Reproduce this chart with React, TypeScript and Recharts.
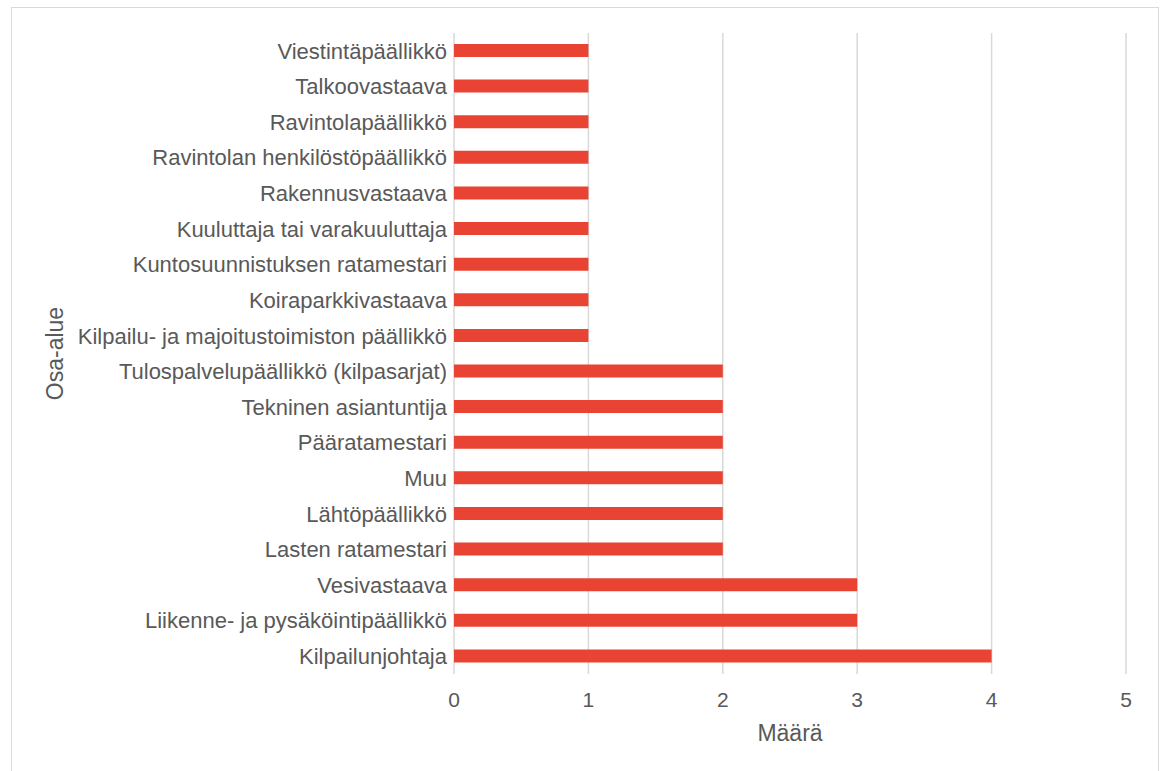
import React from "react";
import {
  BarChart,
  Bar,
  XAxis,
  YAxis,
  CartesianGrid,
  Label,
} from "recharts";

// top-to-bottom order as shown in the chart
const categories = [
  "Viestintäpäällikkö",
  "Talkoovastaava",
  "Ravintolapäällikkö",
  "Ravintolan henkilöstöpäällikkö",
  "Rakennusvastaava",
  "Kuuluttaja tai varakuuluttaja",
  "Kuntosuunnistuksen ratamestari",
  "Koiraparkkivastaava",
  "Kilpailu- ja majoitustoimiston päällikkö",
  "Tulospalvelupäällikkö (kilpasarjat)",
  "Tekninen asiantuntija",
  "Pääratamestari",
  "Muu",
  "Lähtöpäällikkö",
  "Lasten ratamestari",
  "Vesivastaava",
  "Liikenne- ja pysäköintipäällikkö",
  "Kilpailunjohtaja",
];

const counts = [1, 1, 1, 1, 1, 1, 1, 1, 1, 2, 2, 2, 2, 2, 2, 3, 3, 4];

const xTicks = [0, 1, 2, 3, 4, 5];

const FONT = "'Liberation Sans', Arial, sans-serif";
const TEXT = "#595959";

export default function App() {
  const data = categories.map((name, i) => ({ name, value: counts[i] }));

  return (
    <div style={{ position: "absolute", left: 0, top: 0, width: 1162, height: 771, overflow: "hidden", background: "#fff" }}>
      <div
        style={{
          position: "absolute",
          left: 11,
          top: 7,
          width: 1148,
          height: 800,
          border: "1px solid #d9d9d9",
          boxSizing: "border-box",
        }}
      />
      <div style={{ position: "absolute", left: 0, top: 0 }}>
        <BarChart
          width={1162}
          height={771}
          data={data}
          layout="vertical"
          margin={{ top: 33, right: 36, left: 0, bottom: 17 }}
          style={{ fontFamily: FONT }}
        >
          <CartesianGrid horizontal={false} stroke="#d9d9d9" strokeWidth={1.5} />
          <XAxis
            type="number"
            domain={[0, 5]}
            ticks={xTicks}
            axisLine={false}
            tickLine={false}
            tickMargin={12}
            height={80}
            tick={{ fill: TEXT, fontSize: 21, fontFamily: FONT }}
          >
            <Label
              value="Määrä"
              position="insideBottom"
              offset={13}
              style={{ fill: TEXT, fontSize: 23, fontFamily: FONT }}
            />
          </XAxis>
          <YAxis
            type="category"
            dataKey="name"
            width={454}
            axisLine={false}
            tickLine={false}
            tickMargin={1}
            interval={0}
            tick={{ fill: TEXT, fontSize: 22, fontFamily: FONT }}
          >
            <Label
              content={(props: any) => {
                const vb = props.viewBox || {};
                const cx = 55;
                const cy = (vb.y ?? 33) + (vb.height ?? 641) / 2;
                return (
                  <text
                    x={cx}
                    y={cy}
                    transform={`rotate(-90, ${cx}, ${cy})`}
                    textAnchor="middle"
                    dominantBaseline="central"
                    fill={TEXT}
                    fontSize={23}
                    fontFamily={FONT}
                  >
                    Osa-alue
                  </text>
                );
              }}
            />
          </YAxis>
          <Bar dataKey="value" fill="#E84333" barSize={13} isAnimationActive={false} />
        </BarChart>
      </div>
    </div>
  );
}
